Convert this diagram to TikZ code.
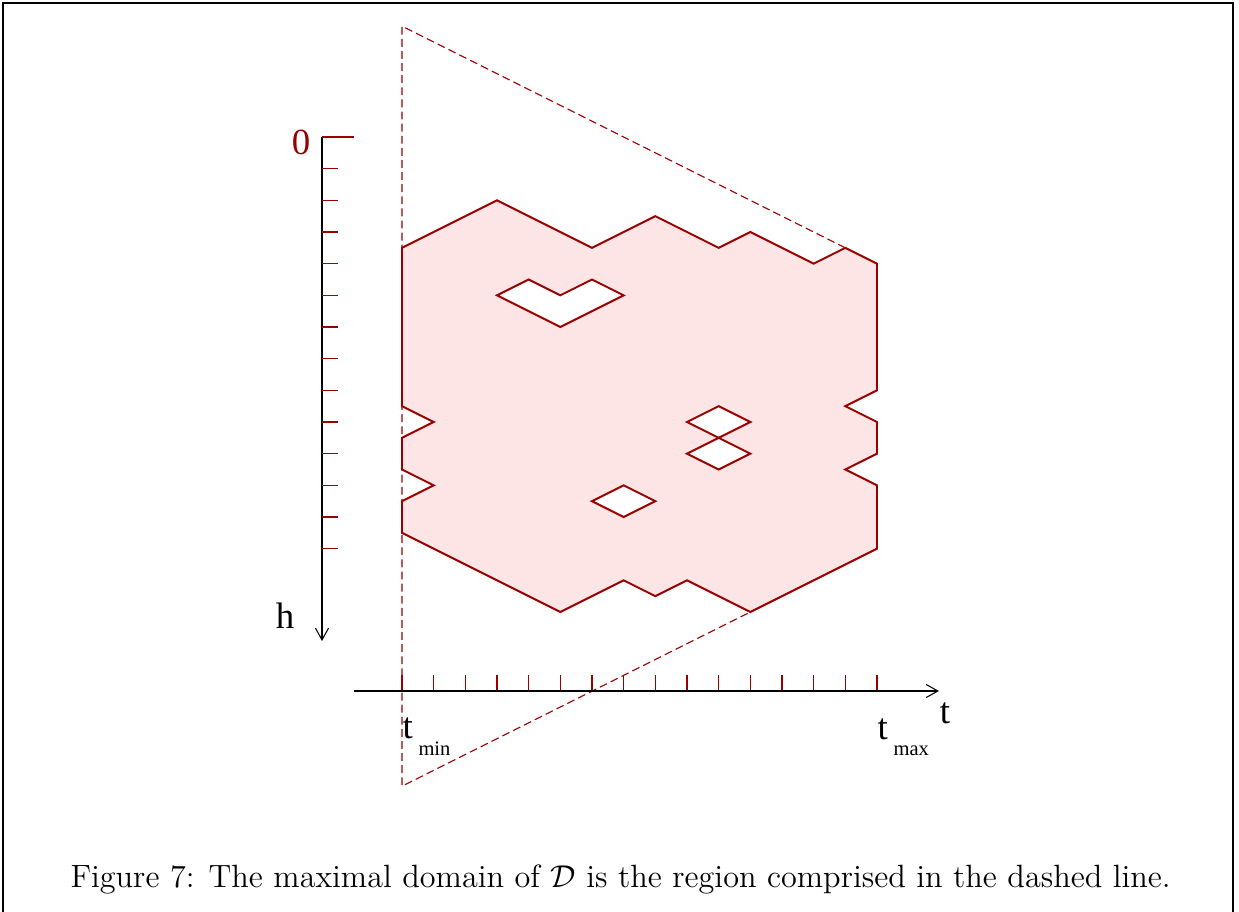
\documentclass[tikz,border=0pt]{standalone}
\usepackage{fontspec}
\newfontfamily\lab{Liberation Serif}
\usetikzlibrary{arrows.meta}
\definecolor{dred}{RGB}{155,0,0}
\definecolor{pinkfill}{RGB}{253,229,229}
\tikzset{
  region/.style={draw=dred, line width=0.75pt, line join=miter},
  regionfill/.style={fill=pinkfill},
  hole/.style={draw=dred, fill=white, line width=0.75pt},
  dashline/.style={draw=dred, line width=0.4pt, dash pattern=on 3pt off 1.6pt},
  tickmark/.style={draw=dred, line width=0.4pt},
  axis/.style={draw=black, line width=0.4pt, -{Straight Barb[length=4.5pt,width=5pt]}},
  lbl/.style={font=\lab\fontsize{14}{16}\selectfont, inner sep=0pt},
  sublbl/.style={font=\lab\fontsize{7.8}{9}\selectfont, inner sep=0pt},
}
\begin{document}
\begin{tikzpicture}[x=0.38pt,y=-0.38pt]
\useasboundingbox (0,0) rectangle (1239,912);
\draw[line width=0.9pt] (3,912) -- (3,3) -- (1233,3) -- (1233,912);

\begin{scope}[shift={(402,137)}, x=12.0333pt, y=-6.0167pt]
  % region
  \path[regionfill] (0,7) -- (3,4) -- (6,7) -- (8,5) -- (10,7) -- (11,6) -- (13,8) -- (14,7) -- (15,8)
     -- (15,16) -- (14,17) -- (15,18) -- (15,20) -- (14,21) -- (15,22) -- (15,26)
     -- (11,30) -- (9,28) -- (8,29) -- (7,28) -- (5,30) -- (0,25)
     -- (0,23) -- (1,22) -- (0,21) -- (0,19) -- (1,18) -- (0,17) -- cycle;
  \path[region] (0,7) -- (3,4) -- (6,7) -- (8,5) -- (10,7) -- (11,6) -- (13,8) -- (14,7) -- (15,8)
     -- (15,16) -- (14,17) -- (15,18) -- (15,20) -- (14,21) -- (15,22) -- (15,26)
     -- (11,30) -- (9,28) -- (8,29) -- (7,28) -- (5,30) -- (0,25)
     -- (0,23) -- (1,22) -- (0,21) -- (0,19) -- (1,18) -- (0,17) -- cycle;
  % holes
  \path[hole] (3,10) -- (4,9) -- (5,10) -- (6,9) -- (7,10) -- (5,12) -- cycle;
  \path[hole] (9,18) -- (10,17) -- (11,18) -- (10,19) -- cycle;
  \path[hole] (9,20) -- (10,19) -- (11,20) -- (10,21) -- cycle;
  \path[hole] (6,23) -- (7,22) -- (8,23) -- (7,24) -- cycle;
  % maximal domain
  \path[dashline] (14,7) -- (0,-7) -- (0,41) -- (15,26);
  % t-axis ticks
  \foreach \c in {0,...,15} \draw[tickmark] (\c,35) -- (\c,34);
\end{scope}

% h axis
\coordinate (hstart) at (322,137);
\coordinate (hend) at (322,641);
\draw[axis] (hstart) -- (hend);
\draw[tickmark] (hstart) -- (354,137);
\foreach \k in {1,...,13} \draw[tickmark] (322,{137+31.667*\k}) -- (338,{137+31.667*\k});
% t axis
\coordinate (tstart) at (354,691);
\coordinate (tend) at (939,691);
\draw[axis] (tstart) -- (tend);

% labels
\node[lbl, text=dred, anchor=base] (zero) at (301,154) {0};
\node[lbl, anchor=base] (hlab) at (285,628) {h};
\node[lbl, anchor=base] (tlab) at (945,723) {t};
\node[lbl, anchor=base west] (tmin) at (402,738) {t};
\node[sublbl, anchor=base west] (tminsub) at (418,755) {min};
\node[lbl, anchor=base west] (tmax) at (877,739) {t};
\node[sublbl, anchor=base west] (tmaxsub) at (893,755) {max};

% caption
\node[anchor=base west, inner sep=0pt, font=\fontsize{12.25}{14}\selectfont] (caption) at (70,887)
  {Figure 7: The maximal domain of $\mathcal{D}$ is the region comprised in the dashed line.};
\end{tikzpicture}
\end{document}
